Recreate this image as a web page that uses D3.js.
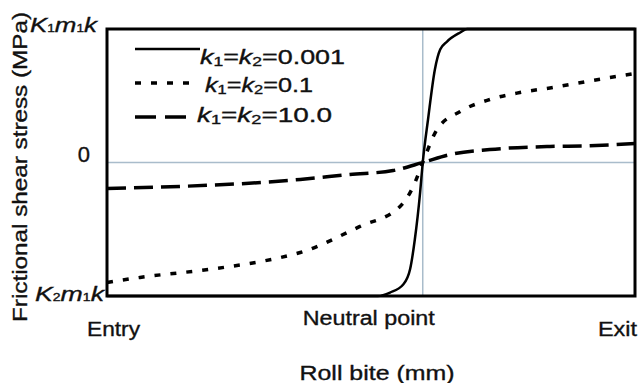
<!DOCTYPE html>
<html lang="en">
<head>
    <meta charset="UTF-8">
    <title>Frictional shear stress in roll bite</title>
    <script src="https://d3js.org/d3.v7.min.js"></script>
    <style>
        body { margin: 0; background: #fff; }
        text { font-family: "Liberation Sans", Arial, sans-serif; fill: #111; stroke: #111; stroke-width: 0.35px; }
    </style>
</head>
<body>
    <script>
        // position along roll bite: 0 = entry, 1 = exit; stress normalised: 1 = K1m1k, -1 = K2m1k
        var neutral = 0.598;

        var xSolid = [0, 0.513, 0.536, 0.561, 0.574, 0.583, 0.593, 0.598, 0.608, 0.621, 0.631, 0.644, 0.669, 0.682, 1];
        var ySolid = [-1, -1, -0.974, -0.914, -0.80, -0.577, -0.225, 0, 0.322, 0.697, 0.846, 0.906, 0.974, 1, 1];

        var xDotted = [0, 0.0625, 0.195, 0.258, 0.328, 0.366, 0.479, 0.555, 0.580, 0.598, 0.625, 0.669, 0.725, 0.782, 0.845, 0.909, 1];
        var yDotted = [-0.899, -0.861, -0.80, -0.764, -0.712, -0.674, -0.479, -0.33, -0.18, 0, 0.247, 0.382, 0.472, 0.524, 0.562, 0.607, 0.667];

        var xDashed = [0, 0.366, 0.460, 0.542, 0.598, 0.65, 0.725, 0.839, 0.909, 1];
        var yDashed = [-0.195, -0.127, -0.09, -0.06, 0, 0.06, 0.097, 0.12, 0.125, 0.142];

        var seriesNames = ["0.001", "0.1", "10.0"];
        var xTickValues = [0, neutral, 1];
        var xTickLabels = ["Entry", "Neutral point", "Exit"];
        var yTickValues = [1, 0, -1];

        var width = 639, height = 383;
        var margin = {left: 107, right: 4, top: 29, bottom: 87};

        var svg = d3.select("body").append("svg")
            .attr("width", width)
            .attr("height", height);

        var x = d3.scaleLinear().domain([0, 1]).range([margin.left, width - margin.right]);
        var y = d3.scaleLinear().domain([-1, 1]).range([height - margin.bottom, margin.top]);

        // gray reference lines at zero stress and neutral point
        svg.append("line")
            .attr("x1", x(0)).attr("x2", x(1))
            .attr("y1", y(0)).attr("y2", y(0))
            .attr("stroke", "#a9bccb").attr("stroke-width", 1.5);
        svg.append("line")
            .attr("x1", x(neutral)).attr("x2", x(neutral))
            .attr("y1", y(1)).attr("y2", y(-1))
            .attr("stroke", "#a9bccb").attr("stroke-width", 1.5);

        var series = [
            {xs: xSolid, ys: ySolid, dash: null, w: 2.5},
            {xs: xDotted, ys: yDotted, dash: "6,10", w: 3.5},
            {xs: xDashed, ys: yDashed, dash: "19,8", w: 3.5}
        ];

        var line = d3.line()
            .x(function(d) { return x(d[0]); })
            .y(function(d) { return y(d[1]); })
            .curve(d3.curveMonotoneX);

        series.forEach(function(s) {
            svg.append("path")
                .datum(d3.zip(s.xs, s.ys))
                .attr("d", line)
                .attr("fill", "none")
                .attr("stroke", "#000")
                .attr("stroke-width", s.w)
                .attr("stroke-dasharray", s.dash);
        });

        // frame
        svg.append("rect")
            .attr("x", x(0)).attr("y", y(1))
            .attr("width", x(1) - x(0)).attr("height", y(-1) - y(1))
            .attr("fill", "none")
            .attr("stroke", "#000")
            .attr("stroke-width", 3);

        // legend
        var legendY = [49, 83, 117];
        var textY = [64, 92, 122];
        series.forEach(function(s, i) {
            svg.append("line")
                .attr("x1", 135).attr("x2", i === 0 ? 200 : 192)
                .attr("y1", legendY[i]).attr("y2", legendY[i])
                .attr("stroke", "#000")
                .attr("stroke-width", i === 0 ? 2.5 : 3.5)
                .attr("stroke-dasharray", i === 0 ? null : (i === 1 ? "6,10" : "21,9"));
            var t = svg.append("text")
                .attr("x", i === 0 ? 200 : (i === 1 ? 205 : 197))
                .attr("y", textY[i])
                .attr("font-size", 20);
            t.append("tspan").attr("font-style", "italic").text("k");
            t.append("tspan").attr("font-size", 13).attr("dy", 2).text("1");
            t.append("tspan").attr("dy", -2).text("=");
            t.append("tspan").attr("font-style", "italic").text("k");
            t.append("tspan").attr("font-size", 13).attr("dy", 2).text("2");
            t.append("tspan").attr("dy", -2).text("=" + seriesNames[i]);
            t.attr("textLength", [145, 108, 135][i]).attr("lengthAdjust", "spacingAndGlyphs");
        });

        // y tick labels
        yTickValues.forEach(function(v) {
            if (v === 0) {
                svg.append("text")
                    .attr("x", x(0) - 17).attr("y", y(0) - 1)
                    .attr("text-anchor", "end")
                    .attr("font-size", 22)
                    .text("0");
                return;
            }
            var t = svg.append("text")
                .attr("x", v > 0 ? x(0) - 10 : x(0) - 3)
                .attr("y", v > 0 ? y(v) + 3 : y(v) + 5)
                .attr("text-anchor", "end")
                .attr("font-size", 21)
                .attr("font-style", "italic")
                .attr("textLength", v > 0 ? 67 : 69)
                .attr("lengthAdjust", "spacingAndGlyphs");
            t.append("tspan").text("K");
            t.append("tspan").attr("font-size", 11).attr("font-style", "normal").text(v > 0 ? "1" : "2");
            t.append("tspan").text("m");
            t.append("tspan").attr("font-size", 11).attr("font-style", "normal").text("1");
            t.append("tspan").text("k");
        });

        // x tick labels
        var xAnchor = ["start", "end", "end"];
        var xOffset = [-20, 12, 2];
        var xBase = [336, 325, 336];
        var xWidth = [53, 132, 39];
        xTickValues.forEach(function(v, i) {
            svg.append("text")
                .attr("x", x(v) + xOffset[i])
                .attr("y", xBase[i])
                .attr("text-anchor", xAnchor[i])
                .attr("font-size", 20)
                .attr("textLength", xWidth[i])
                .attr("lengthAdjust", "spacingAndGlyphs")
                .text(xTickLabels[i]);
        });

        // axis titles
        svg.append("text")
            .attr("x", 377).attr("y", 380)
            .attr("text-anchor", "middle")
            .attr("font-size", 20)
            .attr("textLength", 155)
            .attr("lengthAdjust", "spacingAndGlyphs")
            .text("Roll bite (mm)");

        svg.append("text")
            .attr("transform", "translate(27,167) rotate(-90)")
            .attr("text-anchor", "middle")
            .attr("font-size", 20)
            .attr("textLength", 310)
            .attr("lengthAdjust", "spacingAndGlyphs")
            .text("Frictional shear stress (MPa)");
    </script>
</body>
</html>
